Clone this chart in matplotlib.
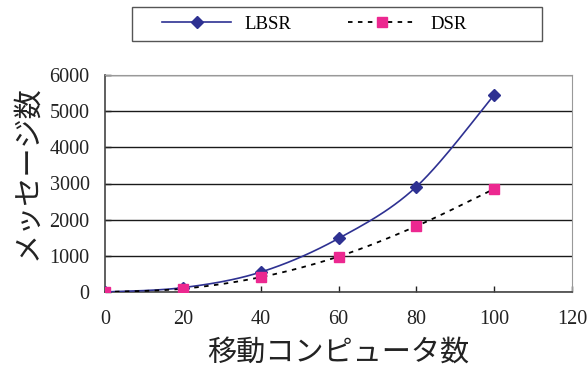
import numpy as np
import matplotlib.pyplot as plt
from matplotlib.lines import Line2D
from matplotlib.patches import Rectangle

plt.rcParams['font.family'] = ['Liberation Serif', 'DejaVu Serif']

nodes = [0, 20, 40, 60, 80, 100]
lbsr = [0, 120, 550, 1480, 2910, 5450]
dsr = [0, 90, 410, 980, 1820, 2850]
x_ticks = [0, 20, 40, 60, 80, 100, 120]
y_ticks = [0, 1000, 2000, 3000, 4000, 5000, 6000]
x_label = '移動コンピュータ数'
y_label = 'メッセージ数'
jp_font = ['Noto Sans CJK JP', 'DejaVu Sans']


def smooth(xs, ys, steps=30):
    # Catmull-Rom style bezier through the points (like a spreadsheet's smoothed line)
    xs = np.asarray(xs, float)
    ys = np.asarray(ys, float)
    px = np.concatenate([[xs[0]], xs, [xs[-1]]])
    py = np.concatenate([[ys[0]], ys, [ys[-1]]])
    out_x, out_y = [], []
    t = np.linspace(0, 1, steps)
    for i in range(1, len(px) - 2):
        p0 = np.array([px[i], py[i]])
        p3 = np.array([px[i + 1], py[i + 1]])
        c1 = p0 + (np.array([px[i + 1], py[i + 1]]) - np.array([px[i - 1], py[i - 1]])) / 6
        c2 = p3 - (np.array([px[i + 2], py[i + 2]]) - np.array([px[i], py[i]])) / 6
        b = ((1 - t) ** 3)[:, None] * p0 + (3 * (1 - t) ** 2 * t)[:, None] * c1 \
            + (3 * (1 - t) * t ** 2)[:, None] * c2 + (t ** 3)[:, None] * p3
        out_x.extend(b[:, 0])
        out_y.extend(b[:, 1])
    return out_x, out_y


W, H = 588, 367
fig = plt.figure(figsize=(W / 100, H / 100), dpi=100)
ax = fig.add_axes([105 / W, 1 - 292 / H, 467 / W, 217 / H])

blue = '#2e3192'
pink = '#ec2890'
dots = (0, (2.5, 3))

sx, sy = smooth(nodes, lbsr)
ax.plot(sx, sy, color=blue, lw=1.2, zorder=3)
ax.plot(nodes, lbsr, ls='none', marker='D', ms=6.5, color=blue, zorder=4)

sx, sy = smooth(nodes, dsr)
ax.plot(sx, sy, color='black', lw=1.3, ls=dots, zorder=3)
ax.plot(nodes, dsr, ls='none', marker='s', ms=7.5, color=pink, zorder=4)

ax.set_xlim(0, 120)
ax.set_ylim(0, 6000)
ax.set_xticks(x_ticks)
ax.set_yticks(y_ticks)
ax.yaxis.grid(True, color='#1a1a1a', lw=1.0)
ax.set_axisbelow(True)
ax.tick_params(direction='in', length=4, width=1, labelsize=14.5, colors='#222222')
ax.tick_params(axis='y', pad=11)
ax.tick_params(axis='x', pad=13)
for side in ['top', 'right']:
    ax.spines[side].set_color('#999999')
for side in ['left', 'bottom']:
    ax.spines[side].set_color('#444444')
    ax.spines[side].set_linewidth(1.2)

ax.set_xlabel(x_label, family=jp_font, fontsize=21, labelpad=6, color='#222222')
ax.set_ylabel(y_label, family=jp_font, fontsize=21, color='#222222',
              va='center', ha='center')
ax.yaxis.set_label_coords(-0.167, 0.548)

# legend box above the plot
fig.patches.append(Rectangle((132 / W, 1 - 41 / H), 410 / W, 34 / H,
                             transform=fig.transFigure, fill=False,
                             edgecolor='#555555', lw=1.0))
handles = [
    Line2D([], [], color=blue, lw=1.2, marker='D', ms=6.5),
    Line2D([], [], color='black', lw=1.3, ls=dots, marker='s', ms=7.5,
           markerfacecolor=pink, markeredgecolor=pink),
]
fig.legend(handles, ['LBSR', 'DSR'], loc='center left', bbox_to_anchor=(162 / W, 1 - 24 / H),
           ncol=2, frameon=False, fontsize=13.5, handlelength=3.7, borderpad=0,
           borderaxespad=0, columnspacing=3.0, handletextpad=0.7)

fig.savefig('out.png', dpi=100)
